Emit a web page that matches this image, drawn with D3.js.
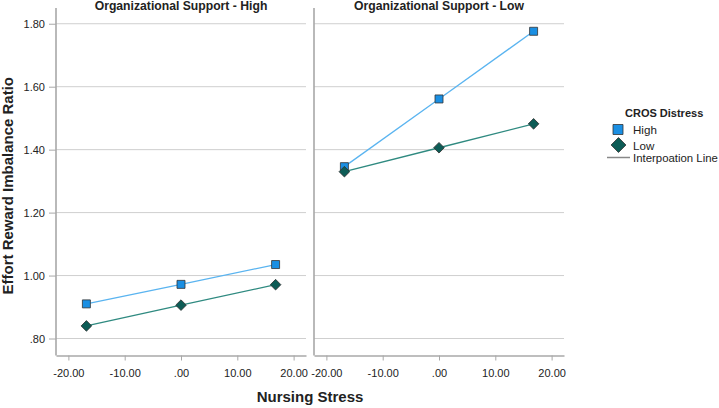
<!DOCTYPE html>
<html>
<head>
<meta charset="utf-8">
<script src="https://cdn.jsdelivr.net/npm/d3@7"></script>
<style>
  body { margin: 0; background: #fff; }
  text { font-family: "Liberation Sans", Arial, sans-serif; fill: #222; }
</style>
</head>
<body>
<div id="chart"></div>
<script>
// data
var panels = ["Organizational Support - High", "Organizational Support - Low"];
var stressLevels = [-16.8, 0, 16.8];
var highHigh = [0.910, 0.972, 1.035];
var highLow = [0.840, 0.906, 0.971];
var lowHigh = [1.346, 1.561, 1.776];
var lowLow = [1.330, 1.406, 1.482];
var xTicks = [-20, -10, 0, 10, 20];
var yTicks = [0.8, 1.0, 1.2, 1.4, 1.6, 1.8];

var seriesByPanel = [
    [{ name: "High", values: highHigh }, { name: "Low", values: highLow }],
    [{ name: "High", values: lowHigh }, { name: "Low", values: lowLow }]
];

var colors = {
    High: { line: "#5ab4f0", fill: "#1a8fe3" },
    Low: { line: "#2f8a80", fill: "#0d5c56" }
};

var width = 719, height = 408;
var plotTop = 8, plotBottom = 355.5;
var panelX = [[56, 306], [314, 564]];

// SPSS style: ".80", "-20.00"
var fmt = function (v) {
    var s = d3.format(".2f")(v).replace("\u2212", "-");
    return s.replace(/^0\./, ".").replace(/^-0\./, "-.");
};

// square marker, or square turned 45 degrees for the diamond
function marker(sel, name, side) {
    sel.attr("d", d3.symbol().type(d3.symbolSquare).size(side * side))
        .attr("fill", colors[name].fill)
        .attr("stroke", "#333")
        .attr("stroke-width", 0.8);
}

var svg = d3.select("#chart")
    .append("svg")
    .attr("width", width)
    .attr("height", height);

var y = d3.scaleLinear()
    .domain([0.746, 1.85])
    .range([plotBottom, plotTop]);

var line = d3.line()
    .x(function (d) { return d[0]; })
    .y(function (d) { return d[1]; });

panels.forEach(function (title, p) {
    var x = d3.scaleLinear()
        .domain([-22.2, 22.2])
        .range(panelX[p]);

    var g = svg.append("g");

    // gridlines
    g.selectAll(".grid")
        .data(yTicks)
        .enter().append("line")
        .attr("x1", panelX[p][0])
        .attr("x2", panelX[p][1])
        .attr("y1", function (d) { return y(d); })
        .attr("y2", function (d) { return y(d); })
        .attr("stroke", "#cfcfcf")
        .attr("stroke-width", 1);

    // y axis line
    g.append("line")
        .attr("x1", panelX[p][0]).attr("x2", panelX[p][0])
        .attr("y1", plotTop).attr("y2", plotBottom)
        .attr("stroke", "#a8a8a8")
        .attr("stroke-width", 1.6);

    // x axis
    var xAxis = g.append("g")
        .attr("transform", "translate(0," + plotBottom + ")")
        .call(d3.axisBottom(x).tickValues(xTicks).tickSize(5).tickSizeOuter(0)
            .tickFormat(fmt));
    xAxis.select(".domain").attr("stroke", "#a8a8a8").attr("stroke-width", 1.6);
    xAxis.selectAll(".tick line").attr("stroke", "#a8a8a8");
    xAxis.selectAll(".tick text")
        .attr("dy", "1.2em")
        .style("font-family", "Liberation Sans, Arial, sans-serif")
        .style("font-size", "11px")
        .attr("fill", "#222");

    if (p === 0) {
        var yAxis = g.append("g")
            .attr("transform", "translate(" + panelX[p][0] + ",0)")
            .call(d3.axisLeft(y).tickValues(yTicks).tickSize(7).tickPadding(4)
                .tickFormat(fmt));
        yAxis.select(".domain").remove();
        yAxis.selectAll(".tick line").attr("stroke", "#a8a8a8");
        yAxis.selectAll(".tick text")
            .style("font-family", "Liberation Sans, Arial, sans-serif")
            .style("font-size", "11px")
            .attr("fill", "#222");
    }

    // panel title
    g.append("text")
        .attr("x", (panelX[p][0] + panelX[p][1]) / 2)
        .attr("y", 10)
        .attr("text-anchor", "middle")
        .style("font-size", "12.2px")
        .style("font-weight", "bold")
        .text(title);

    // lines then markers
    seriesByPanel[p].forEach(function (s) {
        var pts = stressLevels.map(function (v, i) { return [x(v), y(s.values[i])]; });
        g.append("path")
            .attr("d", line(pts))
            .attr("fill", "none")
            .attr("stroke", colors[s.name].line)
            .attr("stroke-width", 1.3);
    });
    seriesByPanel[p].forEach(function (s) {
        var pts = stressLevels.map(function (v, i) { return [x(v), y(s.values[i])]; });
        var rot = s.name === "High" ? 0 : 45;
        var side = s.name === "High" ? 8 : 7.5;
        g.selectAll(".m" + s.name)
            .data(pts)
            .enter().append("path")
            .attr("transform", function (d) { return "translate(" + d[0] + "," + d[1] + ") rotate(" + rot + ")"; })
            .call(marker, s.name, side);
    });
});

// axis titles
svg.append("text")
    .attr("transform", "translate(13," + ((plotTop + plotBottom) / 2 + 4) + ") rotate(-90)")
    .attr("text-anchor", "middle")
    .style("font-size", "15px")
    .style("font-weight", "bold")
    .text("Effort Reward Imbalance Ratio");

svg.append("text")
    .attr("x", 310)
    .attr("y", 402)
    .attr("text-anchor", "middle")
    .style("font-size", "15px")
    .style("font-weight", "bold")
    .text("Nursing Stress");

// legend
var legend = svg.append("g").attr("transform", "translate(607,0)");
legend.append("text")
    .attr("x", 18).attr("y", 116.5)
    .style("font-size", "11px")
    .style("font-weight", "bold")
    .text("CROS Distress");
legend.append("path")
    .attr("transform", "translate(11,129.5)")
    .call(marker, "High", 10);
legend.append("text")
    .attr("x", 26).attr("y", 134)
    .style("font-size", "11.6px")
    .text("High");
legend.append("path")
    .attr("transform", "translate(11.5,145) rotate(45)")
    .call(marker, "Low", 10.5);
legend.append("text")
    .attr("x", 26).attr("y", 149.5)
    .style("font-size", "11.6px")
    .text("Low");
legend.append("line")
    .attr("x1", 0).attr("x2", 23)
    .attr("y1", 157.5).attr("y2", 157.5)
    .attr("stroke", "#888")
    .attr("stroke-width", 1.5);
legend.append("text")
    .attr("x", 26).attr("y", 161.5)
    .style("font-size", "11.4px")
    .text("Interpoation Line");
</script>
</body>
</html>
